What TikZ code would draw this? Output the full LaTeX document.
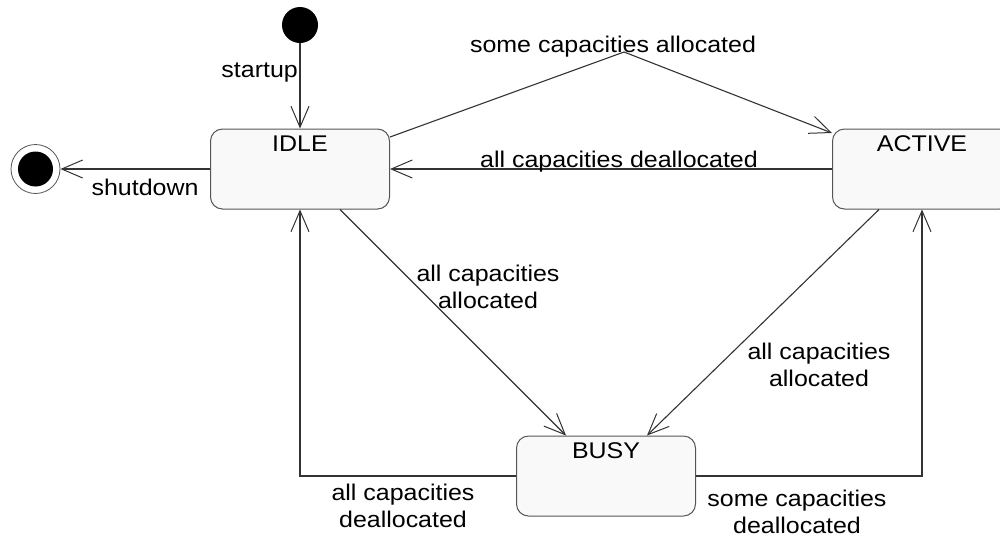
\documentclass[tikz,border=0pt]{standalone}
\usepackage{fontspec}
\setmainfont{Liberation Sans}[FakeStretch=1.1]
\usetikzlibrary{arrows.meta}

\definecolor{edgegray}{HTML}{333333}
\definecolor{boxgray}{HTML}{555555}
\definecolor{boxfill}{HTML}{F9F9F9}

\tikzset{
  txt/.style={font=\fontsize{22.7pt}{27pt}\selectfont, inner sep=0pt, text=black},
  statebox/.style={draw=boxgray, line width=1pt, fill=boxfill, rounded corners=12pt,
    minimum width=179pt, minimum height=80pt, inner sep=0pt},
  statename/.style={txt, anchor=north, yshift=-7pt},
  trans/.style={draw=edgegray, line width=1.1pt,
    -{Straight Barb[length=21pt, width=18pt, line width=1pt]}},
  lbl/.style={txt, align=center},
}

\begin{document}
\begin{tikzpicture}[x=1pt, y=-1pt]
  \useasboundingbox (0,0) rectangle (1000,539);

  % pseudo states
  \node[circle, fill=black, minimum size=36pt, inner sep=0pt] (init) at (300,25) {};
  \node[circle, draw=boxgray, line width=0.8pt, fill=white, minimum size=49pt, inner sep=0pt] (final) at (35.5,169) {};
  \node[circle, fill=black, minimum size=35pt, inner sep=0pt] (finaldot) at (35.5,169) {};

  % states
  \node[statebox] (idle) at (300,169) {};
  \node[statename] (idlename) at (idle.north) {IDLE};
  \node[statebox] (active) at (922,169) {};
  \node[statename] (activename) at (active.north) {ACTIVE};
  \node[statebox] (busy) at (606,476) {};
  \node[statename] (busyname) at (busy.north) {BUSY};

  % transitions
  \draw[trans] (init) -- (idle.north);
  \node[txt, anchor=base east] (lstartup) at (298,77) {startup};

  \draw[trans] (idle.west) -- (final.east);
  \node[txt, anchor=base] (lshutdown) at (145,195) {shutdown};

  \coordinate (apex) at (624,52);
  \draw[trans] ([yshift=32pt]idle.east) -- (apex) -- ([yshift=36pt]active.west);
  \node[txt, anchor=base] (lsomealloc) at (613,52) {some capacities allocated};

  \draw[trans] (active.west) -- (idle.east);
  \node[txt, anchor=base] (lalldealloc) at (619,167) {all capacities deallocated};

  \draw[trans] ([xshift=40pt]idle.south) -- ([xshift=-40pt]busy.north);
  \node[lbl] (lidlebusy) at (488,287) {all capacities\\allocated};

  \draw[trans] ([xshift=-43pt]active.south) -- ([xshift=41pt]busy.north);
  \node[lbl] (lactivebusy) at (819,365) {all capacities\\allocated};

  \draw[trans] (busy.west) -| (idle.south);
  \node[lbl] (lbusyidle) at (403,506) {all capacities\\deallocated};

  \draw[trans] (busy.east) -| (active.south);
  \node[lbl] (lbusyactive) at (797,512) {some capacities\\deallocated};
\end{tikzpicture}
\end{document}
